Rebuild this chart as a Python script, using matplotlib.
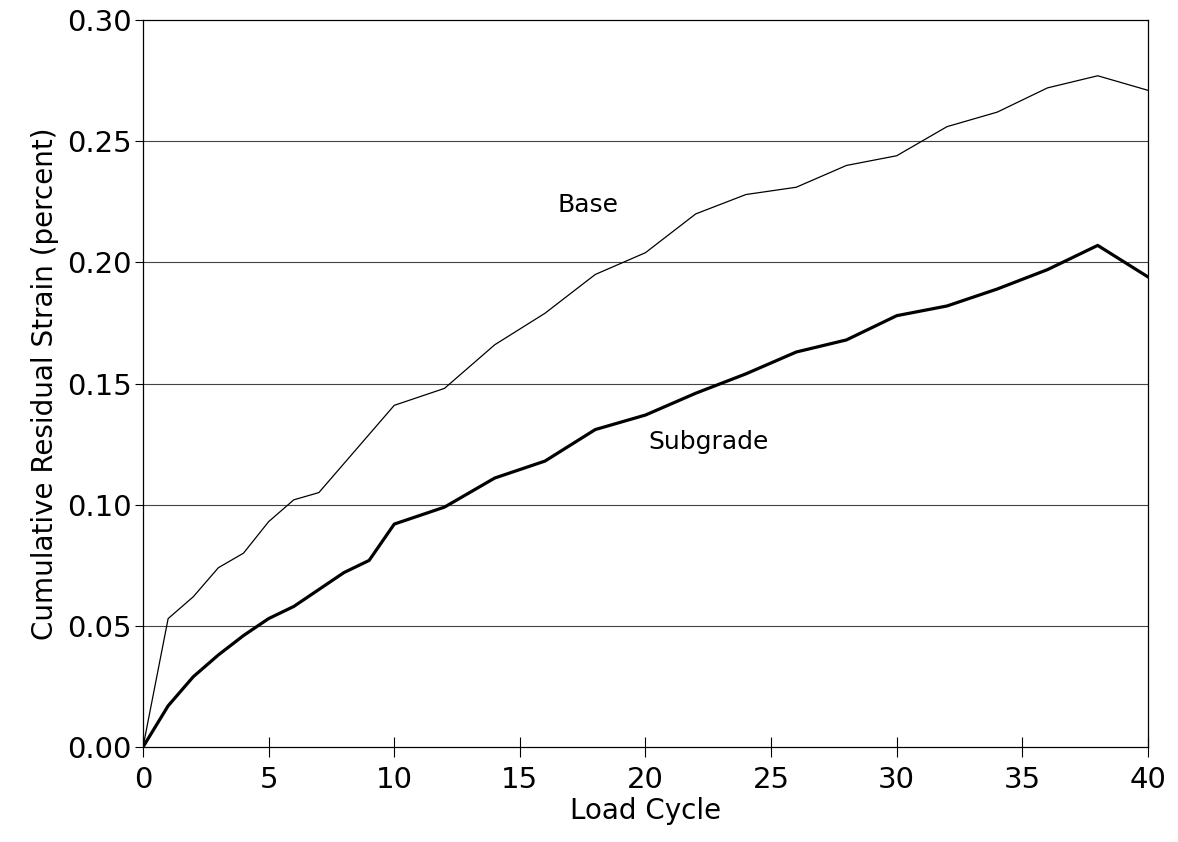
"""
Cumulative residual strain in base and subgrade layers vs. load cycle
"""
import matplotlib
matplotlib.use("Agg")
import matplotlib.pyplot as plt

# Load cycles where the strain was recorded
cycles = [0, 1, 2, 3, 4, 5, 6, 7, 8, 9, 10, 12, 14, 16, 18, 20, 22, 24, 26,
          28, 30, 32, 34, 36, 38, 40]

# Cumulative residual strain (percent)
base_strain = [0.000, 0.053, 0.062, 0.074, 0.080, 0.093, 0.102, 0.105, 0.117,
               0.129, 0.141, 0.148, 0.166, 0.179, 0.195, 0.204, 0.220, 0.228,
               0.231, 0.240, 0.244, 0.256, 0.262, 0.272, 0.277, 0.271]
subgrade_strain = [0.000, 0.017, 0.029, 0.038, 0.046, 0.053, 0.058, 0.065,
                   0.072, 0.077, 0.092, 0.099, 0.111, 0.118, 0.131, 0.137,
                   0.146, 0.154, 0.163, 0.168, 0.178, 0.182, 0.189, 0.197,
                   0.207, 0.194]

xticks = [0, 5, 10, 15, 20, 25, 30, 35, 40]
yticks = [0.00, 0.05, 0.10, 0.15, 0.20, 0.25, 0.30]

plt.rcParams['font.family'] = ['DejaVu Sans']

fig = plt.figure(figsize=(11.78, 8.42), dpi=100)
ax = fig.add_axes([0.1214, 0.1128, 0.8531, 0.8634])

# Horizontal grid at each y tick
for yv in yticks[1:-1]:
    ax.axhline(yv, color='#444444', linewidth=0.8, zorder=1)

ax.plot(cycles, base_strain, color='black', linewidth=0.9, zorder=3)
ax.plot(cycles, subgrade_strain, color='black', linewidth=2.3, zorder=3)

ax.text(17.7, 0.2235, "Base", fontsize=18, ha='center', va='center')
ax.text(22.5, 0.126, "Subgrade", fontsize=18, ha='center', va='center')

ax.set_xlim(0, 40)
ax.set_ylim(0, 0.30)
ax.set_xticks(xticks)
ax.set_yticks(yticks)
ax.set_xticklabels([str(v) for v in xticks])
ax.set_yticklabels([f"{v:.2f}" for v in yticks])
ax.tick_params(axis='both', labelsize=21, width=0.8, color='black')
ax.tick_params(axis='x', direction='inout', length=14, pad=7)
ax.tick_params(axis='y', direction='out', length=6, pad=2)

ax.set_xlabel("Load Cycle", fontsize=20, labelpad=2)
ax.set_ylabel("Cumulative Residual Strain (percent)", fontsize=20, labelpad=6)

for spine in ax.spines.values():
    spine.set_linewidth(0.9)

fig.savefig("out.png", dpi=100, facecolor='white')
plt.close(fig)
